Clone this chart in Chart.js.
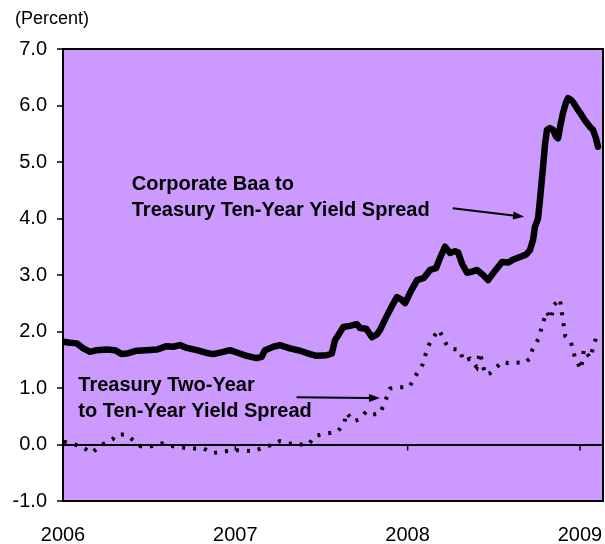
<!DOCTYPE html>
<html>
<head>
<meta charset="utf-8">
<title>Yield Spreads</title>
<script src="https://cdn.jsdelivr.net/npm/chart.js@4.4.0/dist/chart.umd.min.js"></script>
<style>
  body { margin: 0; background: #fff; }
  #wrap { width: 605px; height: 544px; }
</style>
</head>
<body>
<div id="wrap"><canvas id="spreadChart" width="605" height="544"></canvas></div>
<script>
// Corporate Baa minus 10-yr Treasury (percent), dates as fractional years
const baaYears = [
  2006.000, 2006.041, 2006.080, 2006.118, 2006.157, 2006.196, 2006.254, 2006.302, 2006.341, 2006.370,
  2006.428, 2006.486, 2006.544, 2006.602, 2006.640, 2006.679, 2006.718, 2006.776, 2006.834, 2006.872,
  2006.930, 2006.969, 2007.017, 2007.066, 2007.124, 2007.153, 2007.172, 2007.221, 2007.259, 2007.317,
  2007.376, 2007.434, 2007.472, 2007.530, 2007.560, 2007.579, 2007.598, 2007.627, 2007.666, 2007.705,
  2007.724, 2007.759, 2007.793, 2007.822, 2007.840, 2007.875, 2007.909, 2007.938, 2007.962, 2007.985,
  2008.020, 2008.055, 2008.095, 2008.130, 2008.165, 2008.188, 2008.217, 2008.246, 2008.275, 2008.293,
  2008.316, 2008.345, 2008.374, 2008.403, 2008.438, 2008.467, 2008.501, 2008.548, 2008.583, 2008.618,
  2008.652, 2008.687, 2008.710, 2008.728, 2008.739, 2008.757, 2008.768, 2008.786, 2008.797, 2008.809,
  2008.826, 2008.844, 2008.861, 2008.873, 2008.890, 2008.902, 2008.919, 2008.931, 2008.948, 2008.960,
  2008.983, 2009.001, 2009.024, 2009.041, 2009.059, 2009.076, 2009.093, 2009.105
];
const baaSpread = [
  1.82, 1.80, 1.79, 1.70, 1.64, 1.67, 1.68, 1.67, 1.60, 1.61,
  1.66, 1.67, 1.68, 1.74, 1.73, 1.76, 1.71, 1.67, 1.62, 1.60,
  1.64, 1.67, 1.62, 1.57, 1.53, 1.55, 1.67, 1.73, 1.76, 1.70,
  1.66, 1.60, 1.57, 1.58, 1.61, 1.85, 1.94, 2.08, 2.10, 2.13,
  2.06, 2.05, 1.90, 1.95, 2.03, 2.25, 2.45, 2.61, 2.57, 2.50,
  2.72, 2.91, 2.95, 3.09, 3.12, 3.30, 3.50, 3.39, 3.42, 3.40,
  3.20, 3.04, 3.06, 3.09, 3.00, 2.91, 3.05, 3.23, 3.22, 3.28,
  3.32, 3.36, 3.44, 3.62, 3.85, 4.00, 4.33, 4.91, 5.30, 5.57,
  5.60, 5.57, 5.45, 5.42, 5.70, 5.87, 6.05, 6.13, 6.10, 6.06,
  5.95, 5.87, 5.76, 5.69, 5.62, 5.57, 5.42, 5.27
];

// 10-yr minus 2-yr Treasury (percent)
const tsyYears = [
  2006.005, 2006.031, 2006.103, 2006.167, 2006.221, 2006.288, 2006.302, 2006.354, 2006.389, 2006.451,
  2006.515, 2006.573, 2006.650, 2006.737, 2006.814, 2006.872, 2006.946, 2007.008, 2007.104, 2007.197,
  2007.259, 2007.342, 2007.424, 2007.463, 2007.517, 2007.590, 2007.629, 2007.647, 2007.685, 2007.718,
  2007.759, 2007.797, 2007.840, 2007.869, 2007.898, 2007.940, 2008.010, 2008.053, 2008.088, 2008.114,
  2008.140, 2008.182, 2008.204, 2008.227, 2008.265, 2008.304, 2008.323, 2008.362, 2008.401, 2008.420,
  2008.430, 2008.449, 2008.478, 2008.513, 2008.552, 2008.584, 2008.629, 2008.676, 2008.706, 2008.726,
  2008.761, 2008.784, 2008.807, 2008.831, 2008.850, 2008.884, 2008.900, 2008.915, 2008.948, 2008.972,
  2009.006, 2009.024, 2009.059, 2009.093, 2009.107
];
const tsySpread = [
  0.05, 0.03, -0.03, -0.15, -0.01, 0.09, 0.16, 0.18, 0.12, -0.03,
  -0.03, 0.02, -0.04, -0.07, -0.07, -0.15, -0.12, -0.10, -0.12, -0.02,
  0.06, 0.00, 0.00, 0.15, 0.19, 0.22, 0.35, 0.56, 0.41, 0.44,
  0.58, 0.53, 0.55, 0.76, 0.99, 1.01, 1.02, 1.25, 1.42, 1.70,
  1.86, 2.03, 1.90, 1.76, 1.69, 1.67, 1.48, 1.52, 1.37, 1.63,
  1.50, 1.24, 1.26, 1.36, 1.47, 1.44, 1.45, 1.44, 1.51, 1.69,
  1.88, 2.14, 2.35, 2.22, 2.47, 2.58, 2.23, 1.92, 1.81, 1.53,
  1.33, 1.69, 1.53, 1.88, 1.89
];

const yearTicks = [2006, 2007, 2008, 2009];
const yTicks = [-1, 0, 1, 2, 3, 4, 5, 6, 7];

// text notes with arrows, anchored in data units
const notes = [
  { x: 2006.399, y: 4.51, lines: ['Corporate Baa to', 'Treasury Ten-Year Yield Spread'],
    from: [2008.262, 4.18], to: [2008.676, 4.03] },
  { x: 2006.089, y: 0.947, lines: ['Treasury Two-Year', 'to Ten-Year Yield Spread'],
    from: [2007.356, 0.835], to: [2007.840, 0.823] }
];

const FONT = '"Liberation Sans", Arial, sans-serif';
Chart.defaults.font.family = FONT;
Chart.defaults.color = '#000';

function drawArrow(ctx, x1, y1, x2, y2) {
  const ang = Math.atan2(y2 - y1, x2 - x1);
  const len = 11, half = 4;
  ctx.beginPath();
  ctx.moveTo(x1, y1);
  ctx.lineTo(x2 - len * Math.cos(ang), y2 - len * Math.sin(ang));
  ctx.stroke();
  ctx.beginPath();
  ctx.moveTo(x2, y2);
  ctx.lineTo(x2 - len * Math.cos(ang) + half * Math.sin(ang), y2 - len * Math.sin(ang) - half * Math.cos(ang));
  ctx.lineTo(x2 - len * Math.cos(ang) - half * Math.sin(ang), y2 - len * Math.sin(ang) + half * Math.cos(ang));
  ctx.closePath();
  ctx.fill();
}

const spreadDecor = {
  id: 'spreadDecor',
  beforeDraw(chart) {
    const { ctx, chartArea: a } = chart;
    ctx.save();
    ctx.fillStyle = '#CC99FF';
    ctx.fillRect(a.left, a.top, a.right - a.left, a.bottom - a.top);
    ctx.restore();
  },
  afterDraw(chart) {
    const { ctx, chartArea: a, scales: { x, y } } = chart;
    ctx.save();
    ctx.strokeStyle = '#000';
    ctx.fillStyle = '#000';

    // plot frame
    ctx.lineWidth = 2;
    ctx.strokeRect(a.left, a.top, a.right - a.left, a.bottom - a.top);

    // year ticks hang off the zero line
    const y0 = y.getPixelForValue(0);
    ctx.lineWidth = 1.5;
    yearTicks.forEach(v => {
      const px = x.getPixelForValue(v);
      if (px > a.left + 2 && px < a.right - 2) {
        ctx.beginPath();
        ctx.moveTo(px, y0);
        ctx.lineTo(px, y0 + 6);
        ctx.stroke();
      }
    });

    // unit label
    ctx.font = '18px ' + FONT;
    ctx.textBaseline = 'alphabetic';
    ctx.textAlign = 'left';
    ctx.fillText('(Percent)', 15, 24);

    // series notes
    ctx.font = 'bold 20px ' + FONT;
    ctx.lineWidth = 2;
    notes.forEach(n => {
      const nx = x.getPixelForValue(n.x);
      const ny = y.getPixelForValue(n.y);
      n.lines.forEach((t, i) => ctx.fillText(t, nx, ny + i * 26));
      drawArrow(ctx,
        x.getPixelForValue(n.from[0]), y.getPixelForValue(n.from[1]),
        x.getPixelForValue(n.to[0]), y.getPixelForValue(n.to[1]));
    });
    ctx.restore();
  }
};

const ctx = document.getElementById('spreadChart').getContext('2d');
const spreadChart = new Chart(ctx, {
  type: 'line',
  data: {
    datasets: [{
      label: 'Corporate Baa to Treasury Ten-Year Yield Spread',
      data: baaYears.map((t, i) => ({ x: t, y: baaSpread[i] })),
      borderColor: '#000',
      borderWidth: 6.5,
      pointRadius: 0,
      tension: 0,
      borderJoinStyle: 'round',
      borderCapStyle: 'round'
    }, {
      label: 'Treasury Two-Year to Ten-Year Yield Spread',
      data: tsyYears.map((t, i) => ({ x: t, y: tsySpread[i] })),
      borderColor: '#000',
      borderWidth: 4,
      borderDash: [3, 8],
      pointRadius: 0,
      tension: 0
    }]
  },
  options: {
    responsive: false,
    animation: false,
    layout: { padding: { top: 49, right: 2, left: 0, bottom: 0 } },
    plugins: {
      legend: { display: false },
      tooltip: { enabled: false }
    },
    scales: {
      x: {
        type: 'linear',
        min: 2006,
        max: 2009.134,
        // keep the plot edge fixed; end labels may hang past it
        afterFit: s => { s.height = 43; s.paddingLeft = 0; s.paddingRight = 0; },
        afterBuildTicks: s => { s.ticks = yearTicks.map(v => ({ value: v })); },
        grid: { display: false, drawTicks: false },
        border: { display: false },
        ticks: {
          autoSkip: false,
          maxRotation: 0,
          padding: 22,
          font: { size: 20 },
          callback: v => String(v)
        }
      },
      y: {
        min: -1,
        max: 7,
        afterFit: s => { s.width = 63; s.paddingTop = 0; s.paddingBottom = 0; },
        afterBuildTicks: s => { s.ticks = yTicks.map(v => ({ value: v })); },
        grid: {
          color: c => (c.tick && c.tick.value === 0 ? '#000' : 'rgba(0,0,0,0)'),
          lineWidth: 2,
          tickColor: '#000',
          tickWidth: 1.5,
          tickLength: 6
        },
        border: { display: false },
        ticks: {
          padding: 10,
          font: { size: 20 },
          callback: v => Number(v).toFixed(1)
        }
      }
    }
  },
  plugins: [spreadDecor]
});
</script>
</body>
</html>
